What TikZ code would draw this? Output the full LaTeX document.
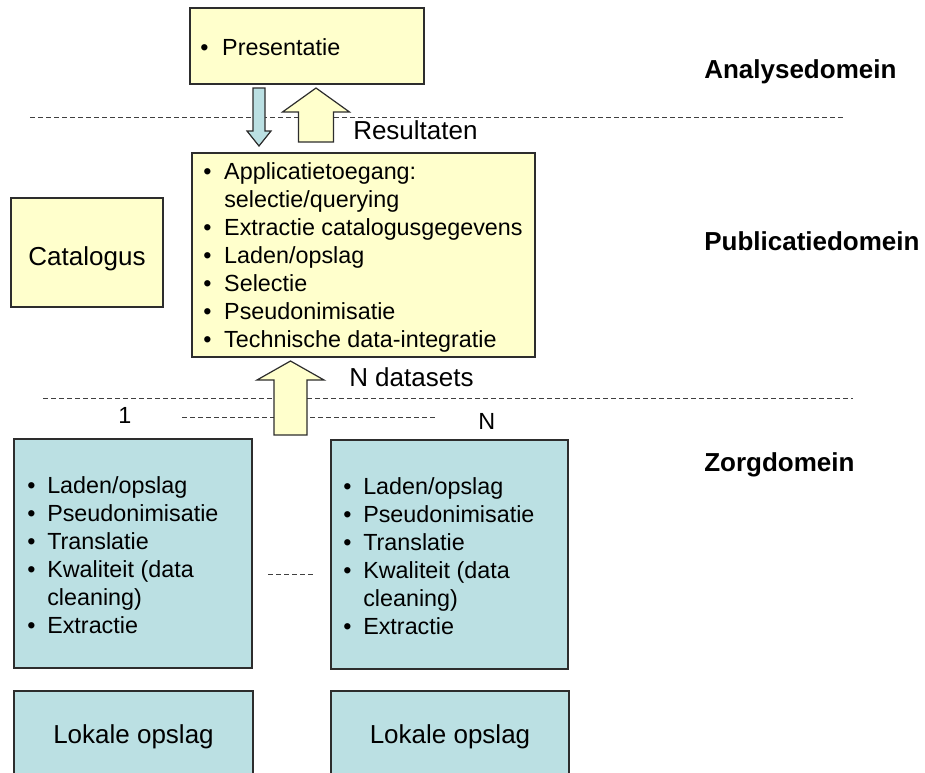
\documentclass[tikz,border=0pt]{standalone}
\usepackage{fontspec}
\setmainfont{Liberation Sans}
\usetikzlibrary{calc,fit}

\definecolor{paleyellow}{RGB}{255,255,204}
\definecolor{paleblue}{RGB}{187,224,227}
\definecolor{edgegray}{RGB}{45,45,45}

\newcommand\bodyfont{\fontsize{17.5pt}{21pt}\selectfont}
\newcommand\bigfont{\fontsize{19.5pt}{23pt}\selectfont}
% bullet item and continuation line with a hanging indent
\newcommand\itm[2][15.75pt]{\makebox[#1][l]{•}#2}
\newcommand\cont[2][15.75pt]{\hspace*{#1}#2}

% vertical block arrows: style, tail, tip, shaft half width, head half width, head length
\newcommand\blockup[6]{%
  \path[#1] let \p1=(#2), \p2=(#3) in
    (\x1-#4,\y1) -- (\x1-#4,\y2-#6) -- (\x1-#5,\y2-#6) -- (\x2,\y2)
    -- (\x1+#5,\y2-#6) -- (\x1+#4,\y2-#6) -- (\x1+#4,\y1) -- cycle;}
\newcommand\blockdown[6]{%
  \path[#1] let \p1=(#2), \p2=(#3) in
    (\x1-#4,\y1) -- (\x1-#4,\y2+#6) -- (\x1-#5,\y2+#6) -- (\x2,\y2)
    -- (\x1+#5,\y2+#6) -- (\x1+#4,\y2+#6) -- (\x1+#4,\y1) -- cycle;}

\tikzset{
  yellowbox/.style={draw=edgegray, line width=0.9pt, fill=paleyellow, inner sep=0pt, rectangle},
  bluebox/.style={draw=edgegray, line width=0.9pt, fill=paleblue, inner sep=0pt, rectangle},
  listtext/.style={anchor=west, align=left, inner sep=0pt, font=\bodyfont},
  plaintext/.style={inner sep=0pt, font=\bodyfont},
  bigtext/.style={inner sep=0pt, font=\bigfont, text depth=0pt},
  domainlabel/.style={anchor=base west, inner sep=0pt, font=\bigfont\bfseries},
  dashline/.style={draw=black!75, line width=0.7pt, dash pattern=on 3.4pt off 2.6pt},
  yellowarrow/.style={draw=edgegray, line width=0.9pt, fill=paleyellow},
  bluearrow/.style={draw=edgegray, line width=0.9pt, fill=paleblue},
}

\begin{document}
\begin{tikzpicture}[x=0.75pt, y=-0.75pt]
\clip (0,0) rectangle (925,772);
\fill[white] (0,0) rectangle (925,772);

% domain separators
\coordinate (s1a) at (30,117);  \coordinate (s1b) at (843,117);
\coordinate (s2a) at (43,398);  \coordinate (s2b) at (853,398);
\coordinate (s3a) at (182,417); \coordinate (s3b) at (435,417);
\coordinate (s4a) at (268,574); \coordinate (s4b) at (313,574);
\draw[dashline] (s1a) -- (s1b);
\draw[dashline] (s2a) -- (s2b);
\draw[dashline] (s3a) -- (s3b);
\draw[dashline] (s4a) -- (s4b);

% analysis domain
\node[yellowbox, fit={(190,8) (424,84)}] (pres) {};
\node[listtext] (prestext) at (200,47) {\itm[16.5pt]{Presentatie}};

% publication domain
\node[yellowbox, fit={(192,153) (535,357)}] (pub) {};
\node[listtext] (pubtext) at (203,257) {%
  \itm{Applicatietoegang:}\\
  \cont{selectie/querying}\\
  \itm{Extractie catalogusgegevens}\\
  \itm{Laden/opslag}\\
  \itm{Selectie}\\
  \itm{Pseudonimisatie}\\
  \itm{Technische data-integratie}};

\node[yellowbox, fit={(11,198) (163,307)}] (cat) {};
\node[bigtext] (cattext) at (87,256) {Catalogus};

% care domain
\node[bluebox, fit={(14,439) (252,668)}] (zorg1) {};
\node[listtext] (zorg1text) at (27,555) {%
  \itm[15pt]{Laden/opslag}\\
  \itm[15pt]{Pseudonimisatie}\\
  \itm[15pt]{Translatie}\\
  \itm[15pt]{Kwaliteit (data}\\
  \cont[15pt]{cleaning)}\\
  \itm[15pt]{Extractie}};

\node[bluebox, fit={(331,440) (568,669)}] (zorgN) {};
\node[listtext] (zorgNtext) at (343,556) {%
  \itm[15pt]{Laden/opslag}\\
  \itm[15pt]{Pseudonimisatie}\\
  \itm[15pt]{Translatie}\\
  \itm[15pt]{Kwaliteit (data}\\
  \cont[15pt]{cleaning)}\\
  \itm[15pt]{Extractie}};

\node[bluebox, fit={(14,691) (253,777)}] (lok1) {};
\node[bigtext] (lok1text) at (133.5,734) {Lokale opslag};
\node[bluebox, fit={(331,691) (569,777)}] (lokN) {};
\node[bigtext] (lokNtext) at (450,734) {Lokale opslag};

% flows between the domains
\coordinate (qTail) at (259,88);    \coordinate (qTip) at (259,146);
\coordinate (rTail) at (316,142);   \coordinate (rTip) at (316,88);
\coordinate (dTail) at (290.5,435); \coordinate (dTip) at (290.5,361);
\blockdown{bluearrow}{qTail}{qTip}{4.5pt}{9pt}{11.25pt}
\blockup{yellowarrow}{rTail}{rTip}{13.125pt}{25.125pt}{18pt}
\blockup{yellowarrow}{dTail}{dTip}{12.375pt}{25.125pt}{14.25pt}

% labels
\node[anchor=base west, inner sep=0pt, font=\bigfont] (resultaten) at (353,139) {Resultaten};
\node[anchor=base west, inner sep=0pt, font=\bigfont] (ndatasets) at (349,386) {N datasets};
\node[anchor=base west, plaintext] (one) at (118,423) {1};
\node[anchor=base west, plaintext] (nn) at (478,429) {N};

\node[domainlabel] (analyse) at (704,78) {Analysedomein};
\node[domainlabel] (publicatie) at (704,250) {Publicatiedomein};
\node[domainlabel] (zorgdomein) at (704,471) {Zorgdomein};
\end{tikzpicture}
\end{document}
